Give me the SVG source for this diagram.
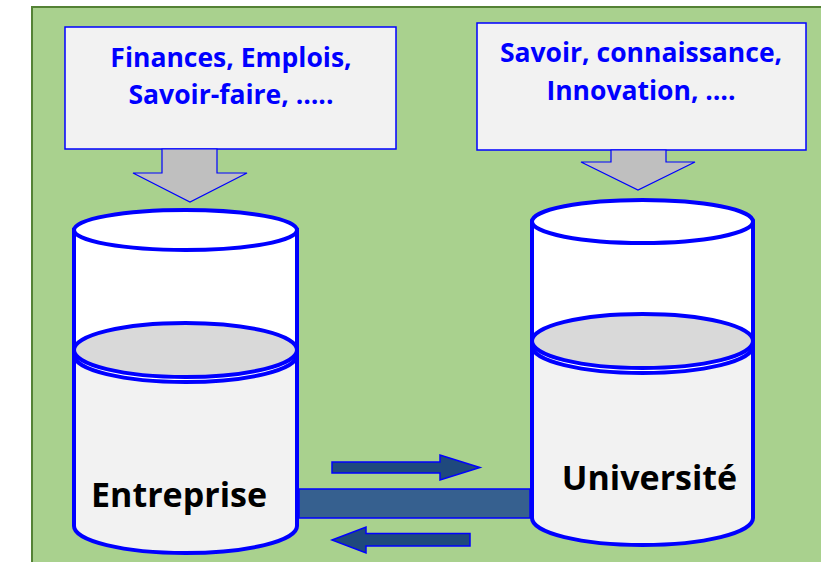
<svg xmlns="http://www.w3.org/2000/svg" width="821" height="562" viewBox="0 0 821 562">
<style>
.bg{fill:#a9d18e;stroke:#548235;stroke-width:2}
.box{fill:#f2f2f2;stroke:#0000ff;stroke-width:1.5}
.btxt{font-family:"Open Sans","Noto Sans",sans-serif;font-weight:bold;font-size:26.5px;fill:#0000ff;text-anchor:middle}
.ltxt{font-family:"Open Sans","Noto Sans",sans-serif;font-weight:bold;font-size:34px;fill:#000;text-anchor:middle}
.garr{fill:#bfbfbf;stroke:#0000ff;stroke-width:1.2}
.cyl{stroke:#0000ff;stroke-width:4}
.white{fill:#ffffff}
.body{fill:#f2f2f2}
.face{fill:#d9d9d9}
.bar{fill:#36608f;stroke:#0000ff;stroke-width:1.5}
.darr{fill:#1f497d;stroke:#0000ff;stroke-width:1.5}
</style>
<rect class="bg" x="32" y="7" width="800" height="570"/>
<g id="box-entreprise">
<rect class="box" x="65" y="27" width="331" height="122"/>
<text class="btxt" x="231" y="67">Finances, Emplois,</text>
<text class="btxt" x="231" y="104">Savoir-faire, …..</text>
<polygon class="garr" points="162,149 217,149 217,173 247,173 190,202 133,173 162,173"/>
</g>
<g id="box-universite">
<rect class="box" x="477" y="23" width="329" height="127"/>
<text class="btxt" x="641" y="62">Savoir, connaissance,</text>
<text class="btxt" x="641" y="100">Innovation, ….</text>
<polygon class="garr" points="611,150 666,150 666,162 695,162 638,190 581,162 611,162"/>
</g>
<g id="cyl-entreprise">
<path class="cyl body" d="M74,350 L74,526 A111.5,27 0 0 0 297,526 L297,350 Z"/>
<path class="cyl white" d="M74,230 L74,355 A111.5,27 0 0 0 297,355 L297,230 Z"/>
<ellipse class="cyl white" cx="185.5" cy="230" rx="111.5" ry="20"/>
<ellipse class="cyl face" cx="185.5" cy="350" rx="111.5" ry="27"/>
<text class="ltxt" x="179" y="507">Entreprise</text>
</g>
<g id="cyl-universite">
<path class="cyl body" d="M532,341 L532,518 A110.5,27 0 0 0 753,518 L753,341 Z"/>
<path class="cyl white" d="M532,221.5 L532,346 A110.5,27 0 0 0 753,346 L753,221.5 Z"/>
<ellipse class="cyl white" cx="642.5" cy="221.5" rx="110.5" ry="21.5"/>
<ellipse class="cyl face" cx="642.5" cy="341" rx="110.5" ry="27"/>
<text class="ltxt" x="649.5" y="490">Université</text>
</g>
<g id="connectors">
<rect class="bar" x="299" y="489" width="231" height="29"/>
<polygon class="darr" points="332,462 440,462 440,455 480,467.5 440,480 440,473 332,473"/>
<polygon class="darr" points="332,540 366,527 366,533.5 470,533.5 470,546 366,546 366,553"/>
</g>
</svg>
